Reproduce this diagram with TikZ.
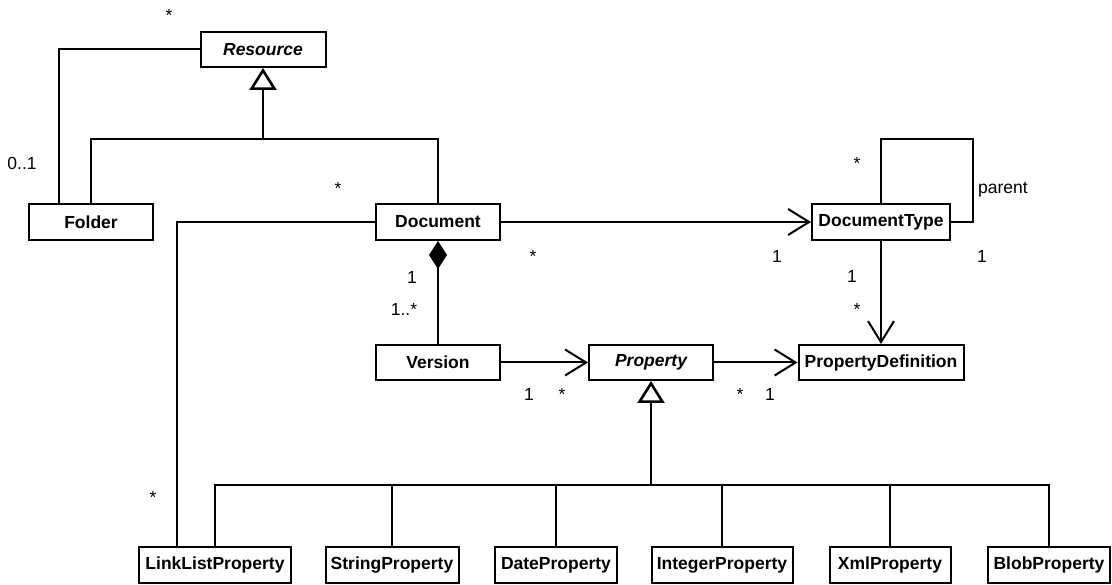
\documentclass[tikz,border=0pt]{standalone}
\usepackage{fontspec}
\setmainfont{Liberation Sans}
\usetikzlibrary{arrows.meta}
\begin{document}
\begin{tikzpicture}[x=1pt,y=-1pt,
  cls/.style={draw, line width=2pt, font=\bfseries\fontsize{17.5}{20}\selectfont,
              minimum height=36pt, inner sep=0pt},
  abstractcls/.style={cls, font=\bfseries\itshape\fontsize{17.5}{20}\selectfont},
  mult/.style={font=\fontsize{17.5}{20}\selectfont, anchor=base, inner sep=0pt},
  link/.style={line width=2pt},
  nav/.style={link, -{Straight Barb[length=21pt,width=26pt]}},
  gentip/.style={line width=2.6pt, -{Triangle[open,length=22pt,width=27pt]}},
  comp/.style={link, {Diamond[length=28pt,width=18pt]}-},
]
\useasboundingbox (0,0) rectangle (1112,585);

% classes
\node[abstractcls, minimum width=125pt, minimum height=35pt] (resource) at (263,49.5) {Resource};
\node[cls, minimum width=124pt] (folder)   at (91,222)  {Folder};
\node[cls, minimum width=124pt] (document) at (438,222) {Document};
\node[cls, minimum width=138pt] (doctype)  at (881,222) {DocumentType};
\node[cls, minimum width=124pt, minimum height=35pt] (version) at (438,362.5) {Version};
\node[abstractcls, minimum width=124pt, minimum height=35pt] (property) at (651,362.5) {Property};
\node[cls, minimum width=165pt, minimum height=35pt] (propdef) at (881,362.5) {PropertyDefinition};

\node[cls, minimum width=152pt] (linklist) at (215,565)  {LinkListProperty};
\node[cls, minimum width=133pt] (string)   at (392,565)  {StringProperty};
\node[cls, minimum width=122pt] (date)     at (556,565)  {DateProperty};
\node[cls, minimum width=141pt] (integer)  at (722,565)  {IntegerProperty};
\node[cls, minimum width=121pt] (xml)      at (890,565)  {XmlProperty};
\node[cls, minimum width=122pt] (blob)     at (1049,565) {BlobProperty};

% Resource generalization
\coordinate (resbar) at (263,139);
\draw[gentip] (resbar) -- (resource.south);
\draw[link] (folder.north) |- (resbar) -| (document.north);

% Folder contains resources
\path (folder.north west) ++(31,0) coordinate (folderA);
\draw[link] (folderA) |- (resource.west);

% Document links
\coordinate (llx) at (177,500);
\draw[link] (document.west) -| (llx |- linklist.north);
\draw[nav] (document.east) -- (doctype.west);
\draw[comp] (document.south) -- (version.north);

% DocumentType parent loop and definitions
\coordinate (loopNE) at (973,139);
\draw[link] (doctype.east) -| (loopNE) -| (doctype.north);
\draw[nav] (doctype.south) -- (propdef.north);

% Property associations
\draw[nav] (version.east) -- (property.west);
\draw[nav] (property.east) -- (propdef.west);

% Property generalization
\coordinate (propbar) at (651,485);
\draw[gentip] (propbar) -- (property.south);
\draw[link] (linklist.north) |- (propbar) -| (blob.north);
\foreach \n in {string,date,integer,xml}
  \draw[link] (\n.north) -- (\n.north |- propbar);

% multiplicities and role names
\node[mult] at (169,22)   {*};
\node[mult] at (22,169.5) {0..1};
\node[mult] at (338,195)  {*};
\node[mult] at (533,263)  {*};
\node[mult] at (777,263)  {1};
\node[mult] at (857,170)  {*};
\node[mult] at (1003,194) {parent};
\node[mult] at (982,263)  {1};
\node[mult] at (852,283)  {1};
\node[mult] at (857,316)  {*};
\node[mult] at (412,284)  {1};
\node[mult] at (404,316)  {1..*};
\node[mult] at (529,401)  {1};
\node[mult] at (562,401)  {*};
\node[mult] at (740,401)  {*};
\node[mult] at (770,401)  {1};
\node[mult] at (153,503)  {*};
\end{tikzpicture}
\end{document}
